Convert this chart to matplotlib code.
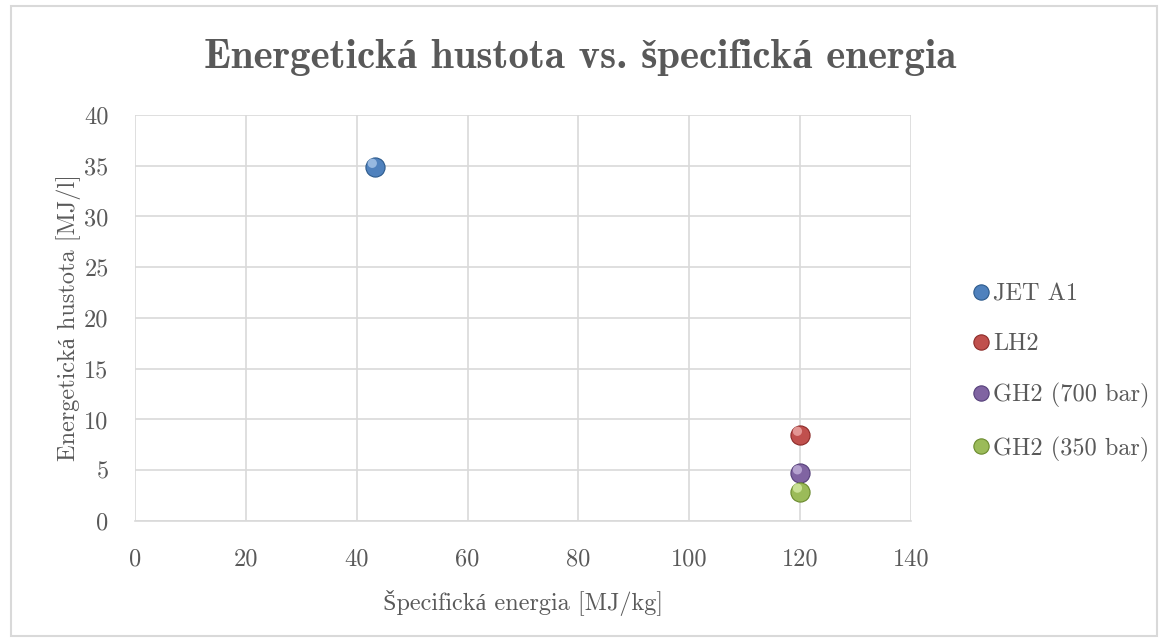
import matplotlib.pyplot as plt
import matplotlib.transforms as mtransforms
from matplotlib.patches import Rectangle
from matplotlib.lines import Line2D

# data
fuels = ['JET A1', 'LH2', 'GH2 (700 bar)', 'GH2 (350 bar)']
spec_energy = [43.3, 120.0, 120.0, 120.0]      # MJ/kg
energy_density = [34.9, 8.5, 4.7, 2.9]          # MJ/l
colors = ['#4F81BD', '#C0504D', '#8064A2', '#9BBB59']
edge_colors = ['#2C5A8C', '#8C2A28', '#55407A', '#6A8A2E']
light_colors = ['#A9C6EA', '#EDA8A6', '#C3B2DB', '#D5EBA5']

x_ticks = [0, 20, 40, 60, 80, 100, 120, 140]
y_ticks = [0, 5, 10, 15, 20, 25, 30, 35, 40]

plt.rcParams['font.family'] = ['cmr10', 'Liberation Serif', 'DejaVu Serif']
plt.rcParams['axes.formatter.use_mathtext'] = False
text_gray = '#595959'
grid_gray = '#D9D9D9'
fs = 17.5

fig = plt.figure(figsize=(11.68, 6.42), dpi=100)
fig.patches.append(Rectangle((0.009, 0.009), 0.982, 0.982, transform=fig.transFigure,
                             fill=False, edgecolor='#D9D9D9', linewidth=1.5))

ax = fig.add_axes([0.1156, 0.1885, 0.6644, 0.6324])
ax.set_xlim(0, 140)
ax.set_ylim(0, 40)
ax.set_xticks(x_ticks)
ax.set_yticks(y_ticks)
ax.grid(True, color=grid_gray, linewidth=1.2)
ax.set_axisbelow(True)
for side in ['top', 'right', 'left']:
    ax.spines[side].set_visible(False)
ax.spines['bottom'].set_color(grid_gray)
ax.spines['bottom'].set_linewidth(1.2)
ax.tick_params(length=0, labelsize=fs, labelcolor=text_gray)
ax.tick_params(axis='x', pad=20)
ax.tick_params(axis='y', pad=19)

hl = mtransforms.offset_copy(ax.transData, fig=fig, x=-2.0, y=2.5, units='points')
handles = []
for i, name in enumerate(fuels):
    ax.scatter(spec_energy[i], energy_density[i], s=190, color=colors[i],
               edgecolor=edge_colors[i], linewidth=0.8, zorder=3)
    ax.scatter(spec_energy[i], energy_density[i], s=45, color=light_colors[i],
               edgecolor='none', alpha=0.8, zorder=4, transform=hl)
    handles.append(Line2D([], [], linestyle='none', marker='o', markersize=11,
                          markerfacecolor=colors[i], markeredgecolor=edge_colors[i],
                          markeredgewidth=0.8, label=name))

ax.set_xlabel('Špecifická energia [MJ/kg]', fontsize=fs, color=text_gray, labelpad=14)
ax.set_ylabel('Energetická hustota [MJ/l]', fontsize=fs, color=text_gray, labelpad=2)

fig.text(0.497, 0.911, 'Energetická hustota vs. špecifická energia', ha='center', va='center',
         fontsize=29.5, fontweight='bold', color=text_gray,
         family=['cmb10', 'Liberation Serif', 'DejaVu Serif'])

leg = fig.legend(handles=handles, loc='center left', bbox_to_anchor=(0.82, 0.42),
                 frameon=False, fontsize=fs, labelspacing=1.15, handletextpad=0.05,
                 handlelength=0.9, borderpad=0)
for t in leg.get_texts():
    t.set_color(text_gray)

fig.savefig('out.png', dpi=100)
